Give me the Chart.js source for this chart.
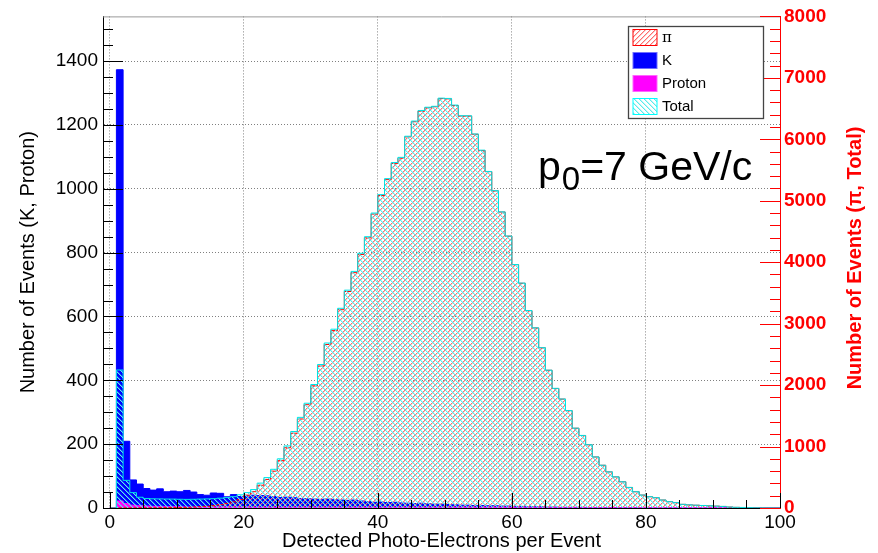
<!DOCTYPE html>
<html>
<head>
<meta charset="utf-8">
<script src="https://cdn.jsdelivr.net/npm/chart.js@4.4.0/dist/chart.umd.min.js"></script>
<style>
  html, body { margin: 0; padding: 0; background: #fff; }
  canvas { display: block; }
</style>
</head>
<body>
<canvas id="c" width="878" height="553"></canvas>
<script>
// one bin per photo-electron, bins [n, n+1) for n = 0..99
const pion = [0,2,2,2,3,3,4,5,6,7, 8,10,15,20,27,38,55,75,100,140,
  210,265,370,465,600,770,980,1217,1449,1681, 1988,2311,2661,2887,3227,3523,3830,4126,4396,4783,
  5085,5344,5608,5693,6039,6286,6459,6513,6529,6663, 6658,6550,6378,6378,6082,5818,5473,5160,4816,4423,
  3959,3657,3211,2930,2607,2241,1945,1772,1584,1298, 1180,1029,830,695,587,506,426,334,264,210,
  183,167,129,102,86,59,50,45,40,35, 30,25,15,10,8,5,3,2,1,0];

const total = [0,2246,450,250,175,155,150,148,146,145, 142,140,142,145,148,152,160,170,185,215,
  250,300,405,495,630,800,1010,1245,1475,1705, 2010,2335,2685,2910,3250,3545,3850,4145,4415,4800,
  5100,5360,5622,5706,6050,6297,6469,6522,6537,6670, 6665,6557,6384,6383,6087,5823,5477,5164,4819,4426,
  3962,3660,3213,2932,2609,2243,1947,1774,1585,1299, 1181,1030,831,696,588,507,427,335,265,211,
  184,168,130,103,87,60,51,46,41,36, 31,26,16,11,9,6,4,3,2,1];

const kaon = [0,1373,209,88,75,61,56,60,51,53, 51,55,50,42,40,47,46,35,42,36,
  38,40,39,38,36,33,34,32,30,29, 28,27,28,26,25,24,25,22,20,18,
  19,17,18,16,15,14,15,13,12,12, 11,10,9,9,8,8,7,7,6,6,
  5,5,4,4,4,3,3,2,2,2, 2,1,1,1,1,1,1,1,1,0,
  1,0,0,1,0,0,0,0,0,0, 0,0,0,0,0,0,0,0,0,0];

const proton = [0,22,14,9,7,6,5,5,4,4, 4,3,3,3,3,3,3,3,3,3,
  3,2,2,2,2,2,2,2,2,2, 2,2,2,2,2,2,2,2,2,2,
  2,2,2,2,2,2,2,2,2,2, 2,2,2,2,2,2,2,2,2,2,
  1,1,1,1,1,1,1,1,1,1, 1,1,1,1,1,1,1,1,1,1,
  1,1,1,1,1,1,1,1,1,1, 1,1,1,1,1,1,1,1,0,0];

const xTicks = [0, 20, 40, 60, 80, 100];
const leftTicks = [0, 200, 400, 600, 800, 1000, 1200, 1400];
const rightTicks = [0, 1000, 2000, 3000, 4000, 5000, 6000, 7000, 8000];

const FONT = '"Liberation Sans", Arial, Helvetica, sans-serif';
Chart.defaults.font.family = FONT;

const canvas = document.getElementById('c');
const cx = canvas.getContext('2d');

// ROOT style hatch fill: a hard pixel plus a soft neighbour per row on a diagonal
function hatch(rgb, up) {
  const s = 5;
  const t = document.createElement('canvas');
  t.width = s; t.height = s;
  const g = t.getContext('2d');
  for (let i = 0; i < s; i++) {
    const x = up ? s - 1 - i : i;
    g.fillStyle = 'rgb(' + rgb + ')';
    g.fillRect(x, i, 1, 1);
    g.fillStyle = 'rgba(' + rgb + ',0.4)';
    g.fillRect((x + 1) % s, i, 1, 1);
  }
  return cx.createPattern(t, 'repeat');
}
const redHatch = hatch('255,110,110', true);
const cyanHatch = hatch('90,236,236', false);

// bin contents -> step outline points at bin low edges, closed at the last edge
const steps = vals => vals.map((v, i) => ({ x: i, y: v })).concat([{ x: vals.length, y: 0 }]);

const histo = (label, vals, axis, border, fill, order) => ({
  label, data: steps(vals), yAxisID: axis, order,
  stepped: 'before', fill: 'origin', tension: 0,
  borderColor: border, backgroundColor: fill, borderWidth: 1,
  pointRadius: 0, pointHoverRadius: 0
});

const decor = {
  id: 'decor',
  afterDraw(chart) {
    const { ctx, chartArea: a, scales } = chart;
    const sx = scales.x, sy = scales.y, sy2 = scales.y2;
    const seg = (x1, y1, x2, y2) => { ctx.beginPath(); ctx.moveTo(x1, y1); ctx.lineTo(x2, y2); ctx.stroke(); };
    ctx.save();
    ctx.lineWidth = 1;
    ctx.strokeStyle = '#999';
    seg(a.left, a.top + 0.5, a.right, a.top + 0.5);

    // inward ticks
    ctx.strokeStyle = '#000';
    for (let v = 0; v <= 100; v += 5) {
      const px = Math.round(sx.getPixelForValue(v)) + 0.5;
      seg(px, a.bottom, px, a.bottom - (v % 20 === 0 ? 15 : 8));
    }
    for (let v = 0; v <= 1500; v += 50) {
      const py = Math.round(sy.getPixelForValue(v)) + 0.5;
      seg(a.left, py, a.left + (v % 200 === 0 ? 20 : 10), py);
    }
    ctx.strokeStyle = '#ff0000';
    for (let v = 0; v <= 8000; v += 200) {
      const py = Math.round(sy2.getPixelForValue(v)) + 0.5;
      seg(a.right, py, a.right - (v % 1000 === 0 ? 20 : 10), py);
    }

    // right axis title, reading upwards
    ctx.save();
    ctx.translate(855, 258);
    ctx.rotate(-Math.PI / 2);
    ctx.fillStyle = '#ff0000';
    ctx.font = 'bold 20px ' + FONT;
    ctx.textAlign = 'center';
    ctx.textBaseline = 'middle';
    ctx.fillText('Number of Events (\u03c0, Total)', 0, 0);
    ctx.restore();

    // legend
    const lx = 628.5, ly = 26.5, lw = 135, lh = 92;
    ctx.fillStyle = '#fff';
    ctx.fillRect(lx, ly, lw, lh);
    ctx.strokeStyle = '#444';
    ctx.lineWidth = 1.3;
    ctx.strokeRect(lx, ly, lw, lh);
    const entries = [
      { name: '\u03c0', fill: redHatch, line: '#ff0000', font: '15px "DejaVu Serif", serif' },
      { name: 'K', fill: '#0000ff', line: '#6f6fff' },
      { name: 'Proton', fill: '#ff00ff', line: '#ff66ff' },
      { name: 'Total', fill: cyanHatch, line: '#00ffff' }
    ];
    ctx.lineWidth = 1;
    entries.forEach((e, i) => {
      const top = 29.5 + i * 23;
      ctx.fillStyle = e.fill;
      ctx.fillRect(633, top, 24, 16);
      ctx.strokeStyle = e.line;
      ctx.strokeRect(633, top, 24, 16);
      ctx.fillStyle = '#000';
      ctx.font = e.font || ('15px ' + FONT);
      ctx.textAlign = 'left';
      ctx.textBaseline = 'middle';
      ctx.fillText(e.name, 662, top + 8.5);
    });

    // momentum label
    ctx.fillStyle = '#000';
    ctx.textBaseline = 'alphabetic';
    ctx.textAlign = 'left';
    ctx.font = '41px ' + FONT;
    ctx.fillText('p', 538, 180);
    let px = 538 + ctx.measureText('p').width + 1;
    ctx.font = '33px ' + FONT;
    ctx.fillText('0', px, 190);
    px += ctx.measureText('0').width;
    ctx.font = '41px ' + FONT;
    ctx.fillText('=7 GeV/c', px, 180);
    ctx.restore();
  }
};

const gridDots = { color: '#808080', lineWidth: 1, drawTicks: false };
const plain = v => String(v);

new Chart(canvas, {
  type: 'line',
  data: {
    datasets: [
      histo('Total', total, 'y2', '#00e5e5', cyanHatch, 1),
      histo('\u03c0', pion, 'y2', '#ff0000', redHatch, 2),
      histo('Proton', proton, 'y', '#ff00ff', '#ff00ff', 3),
      histo('K', kaon, 'y', '#0000ff', '#0000ff', 4)
    ]
  },
  options: {
    responsive: false,
    animation: false,
    devicePixelRatio: 1,
    layout: { padding: { top: 13, left: 0, right: 0, bottom: 0 } },
    plugins: { legend: { display: false }, tooltip: { enabled: false } },
    scales: {
      x: {
        type: 'linear', min: -1, max: 100,
        afterBuildTicks: s => { s.ticks = xTicks.map(v => ({ value: v })); },
        afterFit: s => { s.height = 45; },
        grid: { ...gridDots, color: c => (c.tick && c.tick.value === 100 ? 'rgba(0,0,0,0)' : '#808080') },
        border: { color: '#000', width: 1, dash: [1, 2] },
        ticks: { color: '#000', font: { size: 19 }, padding: 3, maxRotation: 0, autoSkip: false, callback: plain },
        title: { display: true, text: 'Detected Photo-Electrons per Event', color: '#000',
                 font: { size: 20 }, padding: { top: 0, bottom: 0 } }
      },
      y: {
        position: 'left', min: 0, max: 1540,
        afterBuildTicks: s => { s.ticks = leftTicks.map(v => ({ value: v })); },
        afterFit: s => { s.width = 103; },
        grid: gridDots,
        border: { color: '#000', width: 1, dash: [1, 2] },
        ticks: { color: '#000', font: { size: 19 }, padding: 5, callback: plain },
        title: { display: true, text: 'Number of Events (K, Proton)', color: '#000',
                 font: { size: 20 }, padding: { top: 16, bottom: 0 } }
      },
      y2: {
        position: 'right', min: 0, max: 8000,
        afterBuildTicks: s => { s.ticks = rightTicks.map(v => ({ value: v })); },
        afterFit: s => { s.width = 98; },
        grid: { display: false, drawTicks: false },
        border: { color: '#ff0000', width: 1 },
        ticks: { color: '#ff0000', font: { size: 19, weight: 'bold' }, padding: 4, callback: plain }
      }
    }
  },
  plugins: [decor]
});
</script>
</body>
</html>
